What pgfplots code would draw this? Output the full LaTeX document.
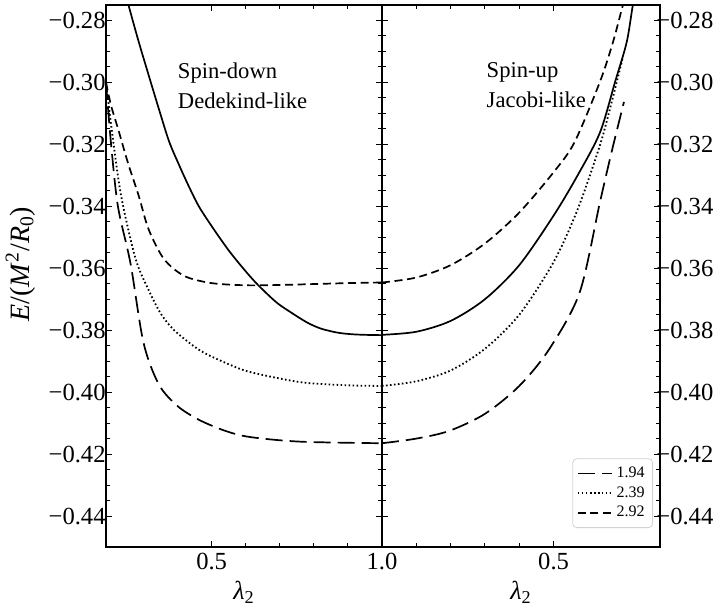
\documentclass[border=0pt]{standalone}
\usepackage{fontspec}
\setmainfont{Liberation Serif}
\usepackage{pgfplots}
\pgfplotsset{compat=1.18}
\begin{document}
\begin{tikzpicture}
\pgfplotsset{
  myax/.style={
    width=138pt, height=271pt, scale only axis,
    ymin=-0.45, ymax=-0.275, xmin=0.19, xmax=1.0,
    tick align=inside,
    xtick={0.5,1.0}, minor x tick num=4,
    ytick={-0.44,-0.42,-0.40,-0.38,-0.36,-0.34,-0.32,-0.30,-0.28}, minor y tick num=3,
    yticklabels={−0.44,−0.42,−0.40,−0.38,−0.36,−0.34,−0.32,−0.30,−0.28},
    tick label style={font=\fontsize{12.3}{14}\selectfont},
    major tick length=3pt, minor tick length=1.8pt,
    every tick/.style={black, line width=0.5pt},
    axis line style={line width=0.6pt},
    xticklabel style={inner sep=0pt, anchor=north, yshift=-3pt},
    xlabel style={at={(axis description cs:0.5,0)}, anchor=north, inner sep=0pt, yshift=-17pt, font=\fontsize{13}{14}\selectfont},
    clip=true,
  },
  ld/.style={black, line width=0.85pt, dash pattern=on 8.5pt off 3.5pt, smooth},
  dt/.style={black, line width=0.9pt, dash pattern=on 0.8pt off 1.2pt, smooth},
  sd/.style={black, line width=0.85pt, dash pattern=on 4pt off 2.3pt, smooth},
  sl/.style={black, line width=0.85pt, smooth},
}
\begin{axis}[myax, name=L,
  xticklabels={0.5,1.0},
  yticklabel style={inner sep=0pt, anchor=east, xshift=0pt},
  xlabel={\textit{λ}\textsubscript{2}},
  ylabel={\textit{E}/(\textit{M}\textsuperscript{2}/\textit{R}\textsubscript{0})},
  ylabel style={at={(axis description cs:-0.31,0.522)}, anchor=center, inner sep=0pt, font=\fontsize{14}{16}\selectfont},
]
% solid
\addplot[sl] coordinates {(0.24,-0.268) (0.256,-0.275) (0.285,-0.2865) (0.315,-0.2976) (0.345,-0.3085) (0.375,-0.319) (0.405,-0.3268) (0.435,-0.334) (0.464,-0.3403) (0.51,-0.348) (0.554,-0.3548) (0.6,-0.361) (0.637,-0.3655) (0.69,-0.371) (0.732,-0.3742) (0.78,-0.3775) (0.821,-0.3795) (0.87,-0.3808) (0.911,-0.3813) (0.95,-0.3815) (1.0,-0.3816)};
% dashed 2.92
\addplot[sd] coordinates {(0.19,-0.300) (0.205,-0.3075) (0.226,-0.3152) (0.255,-0.3262) (0.286,-0.3366) (0.315,-0.3474) (0.36,-0.357) (0.42,-0.3625) (0.5,-0.3648) (0.6,-0.3655) (0.7,-0.3654) (0.8,-0.3651) (0.9,-0.3648) (1.0,-0.3646)};
% dotted 2.39
\addplot[dt] coordinates {(0.19,-0.300) (0.21,-0.318) (0.235,-0.337) (0.277,-0.357) (0.315,-0.367) (0.35,-0.3745) (0.39,-0.38) (0.464,-0.3864) (0.54,-0.3905) (0.613,-0.3935) (0.762,-0.3968) (0.9,-0.3978) (1.0,-0.398)};
% long dash 1.94
\addplot[ld] coordinates {(0.19,-0.300) (0.205,-0.320) (0.225,-0.340) (0.262,-0.3585) (0.3,-0.384) (0.345,-0.3975) (0.4,-0.4045) (0.464,-0.409) (0.54,-0.4125) (0.613,-0.4145) (0.762,-0.4160) (1.0,-0.4165)};
\node[anchor=north west, align=left, font=\fontsize{11.3}{15}\selectfont, inner sep=0pt] at (axis cs:0.40,-0.2935) {Spin-down\\Dedekind-like};
\end{axis}
\begin{axis}[myax, name=R, at={(L.south east)}, anchor=south west, x dir=reverse, width=139pt,
  xticklabels={0.5,{}},
  yticklabel pos=right,
  yticklabel style={inner sep=0pt, anchor=west, xshift=-2pt},
  xlabel={\textit{λ}\textsubscript{2}},
  legend style={at={(0.975,0.035)}, anchor=south east, draw=gray!35, rounded corners=2pt, font=\fontsize{8}{10}\selectfont, row sep=-1pt, inner sep=2pt},
  legend cell align=left,
]
\addplot[ld] coordinates {(1.0,-0.4165) (0.9,-0.415) (0.804,-0.4125) (0.7,-0.407) (0.6,-0.398) (0.512,-0.386) (0.424,-0.3678) (0.365,-0.3387) (0.33,-0.322) (0.295,-0.3063)};
\addlegendentry{1.94}
\addplot[dt] coordinates {(1.0,-0.398) (0.9,-0.3965) (0.8,-0.393) (0.7,-0.386) (0.6,-0.375) (0.5,-0.358) (0.43,-0.341) (0.365,-0.3203) (0.33,-0.306) (0.298,-0.2918)};
\addlegendentry{2.39}
\addplot[sd] coordinates {(1.0,-0.3646) (0.9,-0.363) (0.8,-0.359) (0.7,-0.352) (0.6,-0.342) (0.5,-0.329) (0.439,-0.3193) (0.365,-0.2998) (0.327,-0.287) (0.298,-0.275) (0.28,-0.268)};
\addlegendentry{2.92}
\addplot[sl, forget plot] coordinates {(1.0,-0.3815) (0.9,-0.3805) (0.8,-0.377) (0.7,-0.370) (0.6,-0.359) (0.5,-0.343) (0.43,-0.330) (0.365,-0.3162) (0.32,-0.2995) (0.287,-0.287) (0.269,-0.275) (0.255,-0.268)};
\node[anchor=north west, align=left, font=\fontsize{11.3}{15}\selectfont, inner sep=0pt] at (axis cs:0.696,-0.2935) {Spin-up\\Jacobi-like};
\end{axis}
\pgfresetboundingbox
\path[use as bounding box] ([shift={(-53pt,-30.5pt)}]L.south west) rectangle ([shift={(33pt,2.5pt)}]R.north east);
\end{tikzpicture}
\end{document}
